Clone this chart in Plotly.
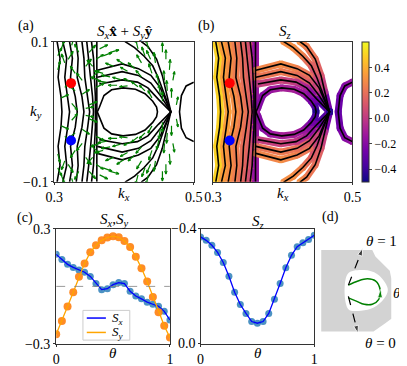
import plotly.graph_objects as go
import plotly.figure_factory as ff
from plotly.colors import sample_colorscale

W, H = 407, 366
FONT = "Liberation Serif, DejaVu Serif, Times New Roman, serif"
CMIN, CMAX = -0.5, 0.6

# ---- (a),(b): constant-energy contours, upper half (ky >= 0); lower half is the mirror
left_ky = [0.1, 0.0767, 0.0493, 0.0219, 0.0]
left_kx = [
    [0.3041, 0.3082, 0.3055, 0.3096, 0.3110],
    [0.3123, 0.3178, 0.3151, 0.3192, 0.3219],
    [0.3219, 0.3260, 0.3233, 0.3301, 0.3329],
    [0.3315, 0.3342, 0.3329, 0.3397, 0.3425],
    [0.3397, 0.3425, 0.3438, 0.3479, 0.3507],
    [0.3466, 0.3493, 0.3521, 0.3548, 0.3562],
    [0.3534, 0.3562, 0.3575, 0.3589, 0.3589],
    [0.3610, 0.3610, 0.3610, 0.3610, 0.3610],
]
left_sz = [0.5, 0.35, 0.3, 0.25, 0.2, 0.15, 0.08, -0.15]

loop_kx = [0.3616, 0.3644, 0.3712, 0.3822, 0.3986, 0.4164, 0.4301, 0.4411, 0.4466, 0.4479]
loop_ky = [0.0, 0.0059, 0.0233, 0.0315, 0.0343, 0.0322, 0.026, 0.0151, 0.0068, 0.0]
loop_sz = [-0.15, -0.2, -0.2, -0.15, -0.1, -0.1, -0.15, -0.25, -0.35, -0.45]

h1_kx = [0.3616, 0.3973, 0.4206, 0.4384, 0.4521, 0.4616, 0.4671]
h1_ky = [0.0593, 0.0685, 0.0617, 0.0521, 0.0343, 0.0123, 0.0]
h1_sz = [0.25, 0.3, 0.25, 0.2, 0.05, -0.2, -0.45]

h2_kx = [0.3616, 0.3973, 0.4206, 0.4384, 0.4521, 0.4671]
h2_ky = [0.0493, 0.0575, 0.0521, 0.0411, 0.0233, 0.0]
h2_sz = [0.2, 0.25, 0.2, 0.1, -0.05, -0.45]

h3_kx = [0.3644, 0.3973, 0.4192, 0.4342, 0.4493, 0.4671]
h3_ky = [0.0397, 0.0456, 0.0425, 0.0343, 0.0178, 0.0]
h3_sz = [0.0, 0.05, 0.0, -0.1, -0.25, -0.45]

t1_kx = [0.4014, 0.4151, 0.4288, 0.4411, 0.4493, 0.4575, 0.4671]
t1_ky = [0.1004, 0.0918, 0.0795, 0.0658, 0.048, 0.0247, 0.0]
t1_sz = [0.3, 0.3, 0.25, 0.15, 0.05, -0.1, -0.45]

t2_kx = [0.4247, 0.4343, 0.4466, 0.4548, 0.4603, 0.4671]
t2_ky = [0.1004, 0.0932, 0.0754, 0.0521, 0.0288, 0.0]
t2_sz = [0.3, 0.25, 0.2, 0.1, -0.05, -0.45]

rl_kx = [0.5, 0.489, 0.4822, 0.4795]
rl_ky = [0.0425, 0.037, 0.0233, 0.0]
rl_sz = [-0.15, -0.2, -0.25, -0.3]

# in-plane spin arrows of (a), upper half: position and (Sx, Sy)
q_kx = [0.455, 0.462, 0.45, 0.44, 0.445, 0.455, 0.43, 0.42, 0.465, 0.47, 0.475,
        0.458, 0.468, 0.452, 0.438, 0.425, 0.46, 0.435,
        0.40, 0.415, 0.385, 0.405, 0.425, 0.395, 0.41, 0.375, 0.42,
        0.37, 0.38, 0.39, 0.405, 0.365, 0.43, 0.44,
        0.31, 0.32, 0.335, 0.345, 0.355, 0.33, 0.315, 0.34, 0.35, 0.325, 0.36, 0.305,
        0.305, 0.315, 0.325, 0.34, 0.35, 0.36, 0.31, 0.33, 0.345, 0.355, 0.365, 0.37, 0.38]
q_ky = [0.015, 0.03, 0.04, 0.055, 0.07, 0.085, 0.08, 0.09, 0.06, 0.045, 0.01,
        0.045, 0.02, 0.025, 0.075, 0.07, 0.075, 0.09,
        0.068, 0.062, 0.065, 0.058, 0.05, 0.046, 0.043, 0.042, 0.036,
        0.055, 0.05, 0.038, 0.037, 0.045, 0.03, 0.02,
        0.09, 0.075, 0.085, 0.065, 0.05, 0.055, 0.035, 0.025, 0.01, 0.012, 0.075, 0.06,
        0.08, 0.07, 0.095, 0.045, 0.085, 0.035, 0.02, 0.03, 0.005, 0.065, 0.09, 0.08, 0.085]
q_u = [0.0, -0.001, -0.003, -0.004, -0.002, 0.0, -0.004, -0.003, 0.001, 0.002, 0.002,
       -0.001, 0.0, -0.002, -0.005, -0.006, 0.0, -0.003,
       -0.009, -0.008, -0.01, -0.009, -0.007, -0.01, -0.009, -0.011, -0.008,
       -0.011, -0.011, -0.011, -0.01, -0.011, -0.007, -0.005,
       0.004, 0.006, -0.005, 0.007, 0.008, -0.006, 0.008, 0.009, 0.01, 0.007, 0.009, 0.003,
       0.005, -0.004, 0.003, -0.007, 0.008, 0.01, 0.009, -0.008, 0.01, -0.007, 0.01, 0.011, 0.011]
q_v = [0.012, 0.013, 0.012, 0.012, 0.013, 0.012, 0.011, 0.012, 0.013, 0.011, 0.01,
       0.012, 0.012, 0.012, 0.011, 0.01, 0.012, 0.012,
       0.006, 0.007, 0.004, 0.005, 0.008, 0.003, 0.004, 0.002, 0.006,
       0.003, 0.002, 0.0, -0.001, 0.004, 0.007, 0.009,
       0.011, 0.01, 0.01, 0.009, 0.008, 0.009, 0.007, 0.006, 0.004, -0.008, 0.006, 0.011,
       0.01, 0.011, 0.011, 0.009, 0.009, 0.005, 0.004, 0.006, 0.002, 0.008, 0.005, 0.004, 0.003]

dot_kx = [0.324, 0.324]
dot_ky = [0.041, -0.041]
dot_colors = ["red", "blue"]

# ---- (c): spin components along the loop
theta = [0, 0.05, 0.1, 0.15, 0.2, 0.25, 0.3, 0.35, 0.4, 0.45, 0.5,
         0.55, 0.6, 0.65, 0.7, 0.75, 0.8, 0.85, 0.9, 0.95, 1.0]
sx = [0.167, 0.14, 0.115, 0.099, 0.085, 0.074, 0.052, 0.015, -0.017, -0.012, 0.009,
      0.02, 0.015, -0.025, -0.05, -0.065, -0.082, -0.093, -0.104, -0.13, -0.175]
sy = [-0.25, -0.18, -0.105, -0.03, 0.05, 0.12, 0.178, 0.215, 0.24, 0.255, 0.262,
      0.256, 0.237, 0.205, 0.155, 0.095, 0.025, -0.055, -0.135, -0.205, -0.267]
sz = [-0.372, -0.36, -0.343, -0.318, -0.283, -0.235, -0.18, -0.137, -0.106, -0.078, -0.072,
      -0.078, -0.106, -0.155, -0.21, -0.265, -0.308, -0.338, -0.352, -0.363, -0.378]
sz_ticks = [-0.4, 0.0]

# ---- (d): schematic (units = pixels of the small inset, y up)
gray_x = [0.3, 53.7, 57, 63.7, 72, 73.7, 73.7, 67, 60, 55, 0.3, 0.3]
gray_y = [87, 87, 80.3, 74, 65.3, 57, 15.3, 10.3, 5.3, 2, 2, 87]
eye_x = [28, 45.3, 58.7, 67, 70, 66, 55.3, 42, 28.7, 28]
eye_y = [62, 66, 62, 53, 45.3, 36, 27, 23.7, 25.3, 62]
path_x = [28.7, 37, 45.3, 53.7, 60.3, 62, 57, 48.7, 38.7, 28.7]
path_y = [37, 33.7, 30.3, 30.3, 35.3, 45.3, 54.7, 57, 54.7, 50.3]


def mirror(kx, ky, s):
    # upper half followed by its reflection ky -> -ky (shares the ky = 0 point)
    return kx + kx[-2::-1], ky + [-v for v in ky[-2::-1]], s + s[-2::-1]


curves = [mirror(k, left_ky, [s] * len(k)) for k, s in zip(left_kx, left_sz)]
curves += [mirror(loop_kx, loop_ky, loop_sz), mirror(h1_kx, h1_ky, h1_sz),
           mirror(h2_kx, h2_ky, h2_sz), mirror(h3_kx, h3_ky, h3_sz),
           mirror(t1_kx, t1_ky, t1_sz), mirror(t2_kx, t2_ky, t2_sz),
           mirror(rl_kx, rl_ky, rl_sz)]

fig = go.Figure()

# (a) black contours + quiver
for kx, ky, s in curves:
    fig.add_trace(go.Scatter(x=kx, y=ky, mode="lines", line=dict(color="black", width=1.6),
                             xaxis="x", yaxis="y", showlegend=False, hoverinfo="skip"))
qx = q_kx + q_kx
qy = q_ky + [-v for v in q_ky]
qu = q_u + q_u
qv = q_v + [-v for v in q_v]
quiv = ff.create_quiver(qx, qy, qu, qv, scale=1.15, arrow_scale=0.35)
qt = quiv.data[0]
qt.update(xaxis="x", yaxis="y", line=dict(color="green", width=1.2),
          showlegend=False, hoverinfo="skip")
fig.add_trace(qt)

# (b) contours coloured by Sz
allx, ally, alls = [], [], []
for kx, ky, s in curves:
    for i in range(len(kx) - 1):
        t = ((s[i] + s[i + 1]) / 2 - CMIN) / (CMAX - CMIN)
        fig.add_trace(go.Scatter(x=kx[i:i + 2], y=ky[i:i + 2], mode="lines",
                                 line=dict(color=sample_colorscale("Plasma", [t])[0], width=7),
                                 xaxis="x2", yaxis="y2", showlegend=False, hoverinfo="skip"))
    allx += kx
    ally += ky
    alls += s
fig.add_trace(go.Scatter(
    x=allx, y=ally, mode="markers", xaxis="x2", yaxis="y2", showlegend=False, hoverinfo="skip",
    marker=dict(size=7, color=alls, colorscale="Plasma", cmin=CMIN, cmax=CMAX, showscale=True,
                colorbar=dict(x=361 / W, xanchor="left", y=1 - 101 / H, yanchor="middle",
                              len=146 / H, thickness=7, xpad=0, ypad=0,
                              tickvals=[-0.4, -0.2, 0.0, 0.2, 0.4], tickformat=".1f",
                              ticks="outside", ticklen=3, outlinecolor="#333", outlinewidth=1,
                              tickfont=dict(family=FONT, size=12, color="black")))))
for kx, ky, s in curves:
    fig.add_trace(go.Scatter(x=kx, y=ky, mode="lines", line=dict(color="black", width=1.6),
                             xaxis="x2", yaxis="y2", showlegend=False, hoverinfo="skip"))

for ax in [("x", "y"), ("x2", "y2")]:
    fig.add_trace(go.Scatter(x=dot_kx, y=dot_ky, mode="markers",
                             marker=dict(size=10, color=dot_colors),
                             xaxis=ax[0], yaxis=ax[1], showlegend=False, hoverinfo="skip"))

# (c) Sx, Sy
fig.add_trace(go.Scatter(x=theta, y=sx, mode="markers", xaxis="x3", yaxis="y3",
                         marker=dict(size=7, color="#1f77b4", opacity=0.8), showlegend=False))
fig.add_trace(go.Scatter(x=theta, y=sx, mode="lines", xaxis="x3", yaxis="y3",
                         line=dict(color="blue", width=1.3), showlegend=False))
fig.add_trace(go.Scatter(x=theta, y=sy, mode="markers", xaxis="x3", yaxis="y3",
                         marker=dict(size=8, color="#ff7f0e", opacity=0.9), showlegend=False))
fig.add_trace(go.Scatter(x=theta, y=sy, mode="lines", xaxis="x3", yaxis="y3",
                         line=dict(color="orange", width=1.3), showlegend=False))

# (c) Sz
fig.add_trace(go.Scatter(x=theta, y=sz, mode="markers", xaxis="x4", yaxis="y4",
                         marker=dict(size=7, color="#1f77b4", opacity=0.8), showlegend=False))
fig.add_trace(go.Scatter(x=theta, y=sz, mode="lines", xaxis="x4", yaxis="y4",
                         line=dict(color="blue", width=1.3), showlegend=False))

# (d) schematic
fig.add_trace(go.Scatter(x=gray_x, y=gray_y, mode="lines", fill="toself", fillcolor="#d3d3d3",
                         line=dict(width=0), xaxis="x5", yaxis="y5", showlegend=False))
fig.add_trace(go.Scatter(x=eye_x, y=eye_y, mode="lines", fill="toself", fillcolor="white",
                         line=dict(width=0, shape="spline"), xaxis="x5", yaxis="y5", showlegend=False))
fig.add_trace(go.Scatter(x=path_x, y=path_y, mode="lines", line=dict(color="green", width=1.5, shape="spline"),
                         xaxis="x5", yaxis="y5", showlegend=False))
fig.add_trace(go.Scatter(x=[62, 62.2], y=[40, 46], mode="markers", xaxis="x5", yaxis="y5",
                         marker=dict(symbol="arrow", size=[0, 9], color="green", angleref="previous"),
                         showlegend=False))
for xs, ys in [([28.7, 43.7], [50.3, 88.7]), ([28.7, 38.7], [38.7, 0.3])]:
    fig.add_trace(go.Scatter(x=xs, y=ys, mode="lines+markers", xaxis="x5", yaxis="y5",
                             line=dict(color="black", width=1.2, dash="dash"),
                             marker=dict(symbol="arrow", size=[0, 8], color="black", angleref="previous"),
                             showlegend=False))

axis_style = dict(showline=True, mirror=True, linecolor="#333", linewidth=1, showgrid=False,
                  zeroline=False, ticks="outside", ticklen=2, tickcolor="#333",
                  tickfont=dict(family=FONT, size=14, color="black"), tickformat=".1f")


def pxx(x):
    return x / W


def pxy(y):
    return 1 - y / H


# legend of (c) drawn by hand so it keeps the compact matplotlib size
legend_shapes = [
    dict(type="rect", xref="paper", yref="paper", x0=pxx(69), x1=pxx(118), y0=pxy(339), y1=pxy(308),
         line=dict(color="#ccc", width=1), fillcolor="white", layer="above"),
    dict(type="line", xref="paper", yref="paper", x0=pxx(73), x1=pxx(93), y0=pxy(316), y1=pxy(316),
         line=dict(color="blue", width=1.5), layer="above"),
    dict(type="line", xref="paper", yref="paper", x0=pxx(73), x1=pxx(93), y0=pxy(331), y1=pxy(331),
         line=dict(color="orange", width=1.5), layer="above"),
]

fig.update_layout(
    width=W, height=H, margin=dict(l=0, r=0, t=0, b=0),
    plot_bgcolor="white", paper_bgcolor="white", showlegend=False,
    font=dict(family=FONT, size=14, color="black"),
    xaxis=dict(axis_style, domain=[pxx(39), pxx(185)], range=[0.3, 0.5], tickvals=[0.3, 0.5], anchor="y"),
    yaxis=dict(axis_style, domain=[pxy(174), pxy(28)], range=[-0.1, 0.1], tickvals=[-0.1, 0.1], anchor="x"),
    xaxis2=dict(axis_style, domain=[pxx(205), pxx(351)], range=[0.3, 0.5], tickvals=[0.3, 0.5], anchor="y2"),
    yaxis2=dict(axis_style, domain=[pxy(174), pxy(28)], range=[-0.1, 0.1], showticklabels=False,
                ticks="", anchor="x2"),
    xaxis3=dict(axis_style, domain=[pxx(41), pxx(160)], range=[0, 1], tickvals=[0, 1],
                ticktext=["0", "1"], anchor="y3"),
    yaxis3=dict(axis_style, domain=[pxy(343), pxy(223)], range=[-0.3, 0.3], tickvals=[-0.3, 0.3], anchor="x3"),
    xaxis4=dict(axis_style, domain=[pxx(192), pxx(311)], range=[0, 1], tickvals=[0, 1],
                ticktext=["0", "1"], anchor="y4"),
    # inverted Sz axis; its two labels are placed as annotations below
    yaxis4=dict(axis_style, domain=[pxy(343), pxy(223)], range=[0.0, -0.4], autorange=False,
                tickvals=sz_ticks, showticklabels=False, anchor="x4"),
    xaxis5=dict(domain=[pxx(318), pxx(392)], range=[0, 74], visible=False, anchor="y5"),
    yaxis5=dict(domain=[pxy(332), pxy(242)], range=[0, 90], visible=False, anchor="x5"),
    shapes=[dict(type="line", xref="x3", yref="y3", x0=0, x1=1, y0=0, y1=0,
                 line=dict(color="gray", width=0.8, dash="dash"))] + legend_shapes,
)

labels = [
    ("(a)", 9, 11, 14), ("(b)", 198, 11, 14), ("(c)", 8, 212, 14), ("(d)", 328, 211, 14),
    ("<i>S<sub>x</sub></i><b>x\u0302</b> + <i>S<sub>y</sub></i><b>y\u0302</b>", 113, 18, 15),
    ("<i>S<sub>z</sub></i>", 280, 18, 15),
    ("<i>S<sub>x</sub></i>,<i>S<sub>y</sub></i>", 101, 214, 15),
    ("<i>S<sub>z</sub></i>", 252, 216, 15),
    ("<i>k<sub>y</sub></i>", 20, 101, 15),
    ("<i>k<sub>x</sub></i>", 112, 187, 15), ("<i>k<sub>x</sub></i>", 278, 187, 15),
    ("<i>\u03b8</i>", 100, 352, 15), ("<i>\u03b8</i>", 252, 352, 15),
    ("<i>\u03b8</i> = 1", 381, 236, 15), ("<i>\u03b8</i>", 398, 290, 15), ("<i>\u03b8</i> = 0", 380, 342, 15),
]
for text, x, y, fs in labels:
    fig.add_annotation(text=text, x=pxx(x), y=pxy(y), xref="paper", yref="paper",
                       showarrow=False, xanchor="center", yanchor="middle",
                       font=dict(family=FONT, size=fs, color="black"))
for text, y in [("<i>S<sub>x</sub></i>", 316), ("<i>S<sub>y</sub></i>", 331)]:
    fig.add_annotation(text=text, x=pxx(97), y=pxy(y), xref="paper", yref="paper",
                       showarrow=False, xanchor="left", yanchor="middle",
                       font=dict(family=FONT, size=13, color="black"))
# tick labels of the inverted Sz axis, tied to the axis through yref="y4"
for v in sz_ticks:
    fig.add_annotation(text=f"{v:.1f}".replace("-", "\u2212"), x=pxx(189), y=v,
                       xref="paper", yref="y4", showarrow=False, xanchor="right", yanchor="middle",
                       font=dict(family=FONT, size=14, color="black"))

fig.write_html("out.html")
